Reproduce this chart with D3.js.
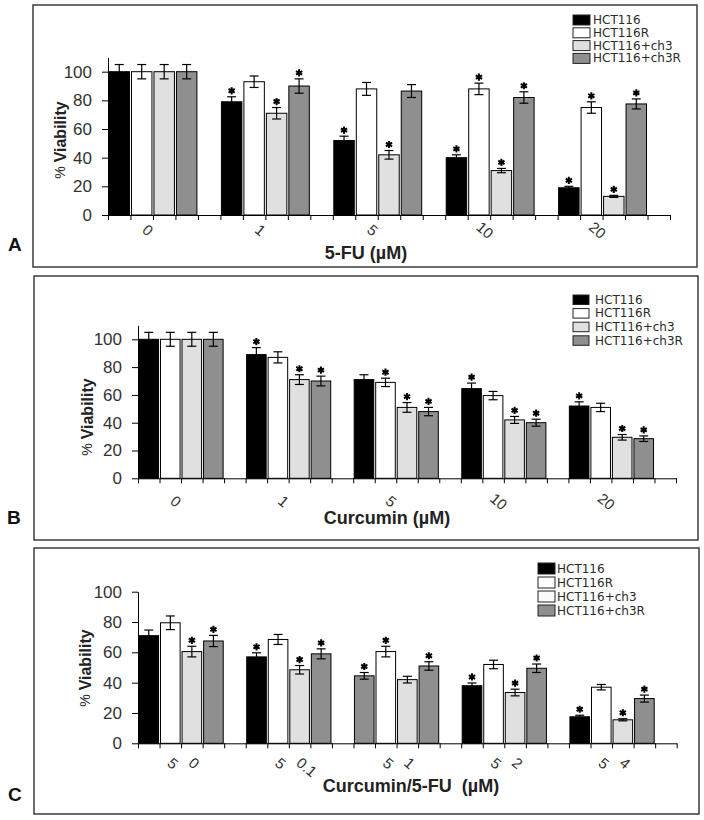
<!DOCTYPE html>
<html><head><meta charset="utf-8">
<script src="https://cdn.jsdelivr.net/npm/d3@7"></script>
<style>body{margin:0;background:#fff}svg{display:block}</style>
</head><body><svg id="chart" width="704" height="820"></svg>
<script>
// ---------------- DATA ----------------
const seriesNames = ["HCT116", "HCT116R", "HCT116+ch3", "HCT116+ch3R"];
const yTicks = [0, 20, 40, 60, 80, 100];

// Panel A: 5-FU
const categoriesA = ["0", "1", "5", "10", "20"];
const hct116A  = [100, 79, 52, 40, 19];
const hct116RA = [100, 93, 88, 88, 75];
const ch3A     = [100, 71, 42, 31, 13];
const ch3RA    = [100, 90, 86.5, 82, 77.5];
const errHct116A  = [5, 3.5, 3, 2, 1];
const errHct116RA = [5, 4, 4.5, 4, 4];
const errCh3A     = [5, 4, 3, 1.5, 0.7];
const errCh3RA    = [5, 5, 4.5, 4, 3.5];
const sigHct116A  = [0, 1, 1, 1, 1];
const sigHct116RA = [0, 0, 0, 1, 1];
const sigCh3A     = [0, 1, 1, 1, 1];
const sigCh3RA    = [0, 1, 0, 1, 1];

// Panel B: Curcumin
const categoriesB = ["0", "1", "5", "10", "20"];
const hct116B  = [100, 89, 71, 64.5, 52];
const hct116RB = [100, 87, 69, 59.5, 51];
const ch3B     = [100, 71, 51, 42, 29.5];
const ch3RB    = [100, 70, 48, 40, 28.5];
const errHct116B  = [5, 5, 3.5, 4, 3];
const errHct116RB = [5, 4, 3, 3, 3];
const errCh3B     = [5, 3.5, 3.5, 2.5, 2];
const errCh3RB    = [5, 3.5, 3, 2.5, 2];
const sigHct116B  = [0, 1, 0, 1, 1];
const sigHct116RB = [0, 0, 1, 0, 0];
const sigCh3B     = [0, 1, 1, 1, 1];
const sigCh3RB    = [0, 1, 1, 1, 1];

// Panel C: Curcumin / 5-FU
const curcuminC = ["5", "5", "5", "5", "5"];
const fuC       = ["0", "0.1", "1", "2", "4"];
const hct116C  = [71, 57, 44.5, 38, 17.5];
const hct116RC = [79.5, 68.5, 60.5, 52, 37];
const ch3C     = [60.5, 48.5, 42, 33.5, 15.5];
const ch3RC    = [67.5, 59, 51, 49.5, 29.5];
const errHct116C  = [3.7, 2.7, 2.2, 1.8, 1];
const errHct116RC = [4.5, 3.3, 3.5, 2.8, 1.8];
const errCh3C     = [3.5, 2.8, 2.2, 2.2, 0.7];
const errCh3RC    = [3.7, 3.3, 2.8, 2.8, 2.3];
const sigHct116C  = [0, 1, 1, 1, 1];
const sigHct116RC = [0, 0, 1, 0, 0];
const sigCh3C     = [1, 1, 0, 1, 1];
const sigCh3RC    = [1, 1, 1, 1, 1];

// ---------------- STYLE ----------------
const fills = ["#000000", "#ffffff", "#e0e0e0", "#8f8f8f"];
const legendFillsC = ["#000000", "#ffffff", "#fbfbfb", "#8f8f8f"];
// in panel C the first bar of the third group is drawn in the ch3R shade
const fillOverrideC = {"2-0": 3};

const svg = d3.select("#chart");
const tickFont = "'Liberation Sans', Arial, sans-serif";

function build(cats, vals, errs, sigs) {
  const rows = [];
  cats.forEach((c, g) => {
    vals.forEach((v, s) => {
      rows.push({g, s, slot: g * 5 + s, v: v[g], e: errs[s][g], sig: sigs[s][g]});
    });
  });
  return rows;
}

function panel(cfg) {
  const f = cfg.frame;
  svg.append("rect").attr("x", f.x).attr("y", f.y).attr("width", f.w).attr("height", f.h)
    .attr("fill", "none").attr("stroke", "#3c3c3c").attr("stroke-width", 1.5);

  svg.append("text").attr("x", cfg.letter[0]).attr("y", cfg.letter[1])
    .attr("font-family", tickFont).attr("font-weight", "bold").attr("font-size", 19)
    .attr("fill", "#111").text(cfg.letterText);

  const nSlots = cfg.cats.length * 5;
  const x = d3.scaleBand().domain(d3.range(nSlots)).range([cfg.x0, cfg.x1])
    .paddingInner(0.09).paddingOuter(0.045);
  const xs = d3.scaleLinear().domain([0, nSlots]).range([cfg.x0, cfg.x1]);
  const y = d3.scaleLinear().domain([0, cfg.yMax]).range([cfg.y0, cfg.y0 - cfg.pxPerUnit * cfg.yMax]);

  const rows = build(cfg.cats, cfg.vals, cfg.errs, cfg.sigs);
  const g = svg.append("g");

  g.selectAll("rect.bar").data(rows).join("rect").attr("class", "bar")
    .attr("x", d => x(d.slot)).attr("width", x.bandwidth())
    .attr("y", d => y(d.v)).attr("height", d => y(0) - y(d.v))
    .attr("fill", d => {
      const o = cfg.override && cfg.override[d.g + "-" + d.s];
      return fills[o !== undefined ? o : d.s];
    })
    .attr("stroke", "#000").attr("stroke-width", 1);

  // y axis
  const ya = svg.append("g").attr("transform", `translate(${cfg.x0},0)`)
    .call(d3.axisLeft(y).tickValues(yTicks).tickSize(6).tickSizeOuter(0).tickPadding(10));
  ya.selectAll("path,line").attr("stroke", "#000");
  ya.selectAll("text").attr("font-family", tickFont).attr("font-size", 17).attr("fill", "#333");

  // x axis with tick between every slot
  const xa = svg.append("g").attr("transform", `translate(0,${cfg.y0})`)
    .call(d3.axisBottom(xs).tickValues(d3.range(nSlots + 1)).tickFormat("").tickSize(5).tickSizeOuter(0));
  xa.selectAll("path,line").attr("stroke", "#000");

  // error bars
  const eb = g.selectAll("g.err").data(rows).join("g").attr("class", "err")
    .attr("stroke", "#000").attr("stroke-width", 1.2);
  const cx = d => x(d.slot) + x.bandwidth() / 2;
  eb.append("line").attr("x1", cx).attr("x2", cx).attr("y1", d => y(d.v - d.e)).attr("y2", d => y(d.v + d.e));
  eb.append("line").attr("x1", d => cx(d) - 4.5).attr("x2", d => cx(d) + 4.5).attr("y1", d => y(d.v + d.e)).attr("y2", d => y(d.v + d.e));
  eb.append("line").attr("x1", d => cx(d) - 4.5).attr("x2", d => cx(d) + 4.5).attr("y1", d => y(d.v - d.e)).attr("y2", d => y(d.v - d.e));

  // significance stars
  const star = d3.symbol().type(d3.symbolAsterisk || d3.symbolStar).size(36);
  g.selectAll("g.star").data(rows.filter(d => d.sig)).join("g").attr("class", "star")
    .attr("transform", d => `translate(${cx(d)},${y(d.v + d.e) - 6})`)
    .each(function() {
      d3.select(this).append("path").attr("d", star()).attr("stroke", "#000").attr("stroke-width", 2).attr("fill", "#000");
      d3.select(this).append("circle").attr("r", 1.8).attr("fill", "#000");
    });

  // category labels
  const gc = i => xs(i * 5 + 2);
  if (cfg.cats2) {
    cfg.cats.forEach((c, i) => {
      svg.append("text").attr("transform", `translate(${gc(i) - 8},${cfg.y0 + cfg.labDy}) rotate(40)`)
        .attr("text-anchor", "middle").attr("dominant-baseline", "central")
        .attr("font-family", tickFont).attr("font-size", 15).attr("fill", "#333").text(c);
      svg.append("text").attr("transform", `translate(${gc(i) + 10},${cfg.y0 + cfg.labDy - 3}) rotate(40)`)
        .attr("text-anchor", "start").attr("dominant-baseline", "central")
        .attr("font-family", tickFont).attr("font-size", 15).attr("fill", "#333").text(cfg.cats2[i]);
    });
  } else {
    cfg.cats.forEach((c, i) => {
      svg.append("text").attr("transform", `translate(${gc(i) - 5},${cfg.y0 + cfg.labDy}) rotate(40)`)
        .attr("text-anchor", "middle").attr("dominant-baseline", "central")
        .attr("font-family", tickFont).attr("font-size", 15).attr("fill", "#333").text(c);
    });
  }

  // axis titles
  svg.append("text").attr("x", cfg.xTitle[0]).attr("y", cfg.xTitle[1]).attr("text-anchor", "middle")
    .attr("font-family", tickFont).attr("font-weight", "bold").attr("font-size", 18).attr("fill", "#222")
    .attr("xml:space", "preserve").text(cfg.xTitleText);
  const yt = svg.append("text").attr("transform", `translate(${cfg.yTitle[0]},${cfg.yTitle[1]}) rotate(-90)`)
    .attr("text-anchor", "middle").attr("dominant-baseline", "central")
    .attr("font-family", tickFont).attr("fill", "#222");
  yt.append("tspan").attr("font-size", 14).text("% ");
  yt.append("tspan").attr("font-size", 16).attr("font-weight", "bold").text("Viability");

  // legend
  const L = cfg.legend;
  const lf = cfg.legendFills || fills;
  seriesNames.forEach((n, i) => {
    const top = L.y + i * L.dy;
    svg.append("rect").attr("x", L.x).attr("y", top).attr("width", L.w).attr("height", L.h)
      .attr("fill", lf[i]).attr("stroke", "#222").attr("stroke-width", 1);
    svg.append("text").attr("x", L.tx).attr("y", top + L.h / 2).attr("dominant-baseline", "central")
      .attr("font-family", "'DejaVu Sans', Verdana, sans-serif").attr("font-size", 12).attr("fill", "#2a2a2a").text(n);
  });
}

panel({
  frame: {x: 33, y: 5, w: 664, h: 262}, letter: [8, 251], letterText: "A",
  x0: 108, x1: 670, y0: 215, pxPerUnit: 1.433, yMax: 110,
  cats: categoriesA, vals: [hct116A, hct116RA, ch3A, ch3RA],
  errs: [errHct116A, errHct116RA, errCh3A, errCh3RA], sigs: [sigHct116A, sigHct116RA, sigCh3A, sigCh3RA],
  labDy: 15, xTitle: [366, 259], xTitleText: "5-FU (µM)", yTitle: [60, 140],
  legend: {x: 573, y: 15, dy: 12.8, w: 17, h: 10, tx: 593}
});

panel({
  frame: {x: 34, y: 276, w: 664, h: 264}, letter: [7, 524], letterText: "B",
  x0: 138, x1: 676, y0: 478.3, pxPerUnit: 1.39, yMax: 110,
  cats: categoriesB, vals: [hct116B, hct116RB, ch3B, ch3RB],
  errs: [errHct116B, errHct116RB, errCh3B, errCh3RB], sigs: [sigHct116B, sigHct116RB, sigCh3B, sigCh3RB],
  labDy: 23, xTitle: [387, 524], xTitleText: "Curcumin (µM)", yTitle: [87, 417],
  legend: {x: 573, y: 295, dy: 13.6, w: 16, h: 9.5, tx: 595}
});

panel({
  frame: {x: 34, y: 548, w: 665, h: 266}, letter: [8, 801], letterText: "C",
  x0: 138, x1: 676.7, y0: 743.3, pxPerUnit: 1.516, yMax: 100,
  cats: curcuminC, cats2: fuC, vals: [hct116C, hct116RC, ch3C, ch3RC],
  errs: [errHct116C, errHct116RC, errCh3C, errCh3RC], sigs: [sigHct116C, sigHct116RC, sigCh3C, sigCh3RC],
  override: fillOverrideC,
  labDy: 20, xTitle: [411, 792], xTitleText: "Curcumin/5-FU  (µM)", yTitle: [85, 668],
  legend: {x: 538, y: 563, dy: 14, w: 17, h: 11, tx: 557}, legendFills: legendFillsC
});
</script></body></html>
